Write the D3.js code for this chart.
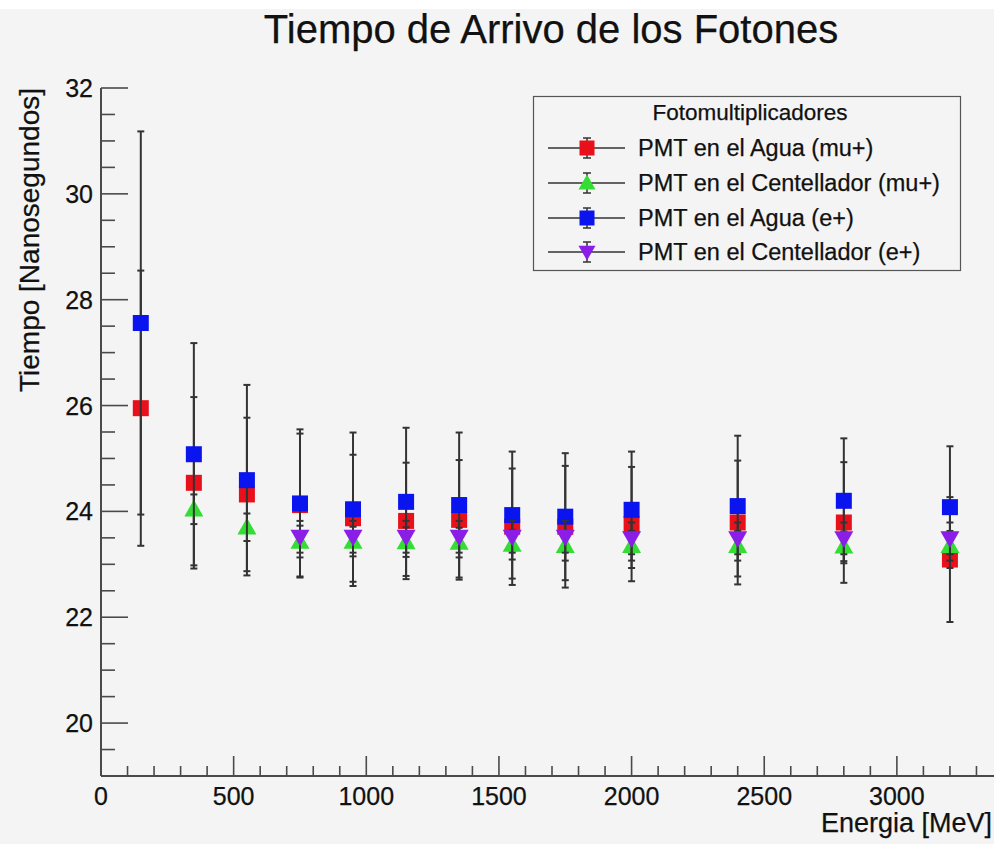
<!DOCTYPE html>
<html>
<head>
<meta charset="utf-8">
<script src="https://cdn.jsdelivr.net/npm/d3@7"></script>
<style>
  html, body { margin: 0; padding: 0; background: #f4f4f4; }
  svg { display: block; }
  text { font-family: "Liberation Sans", Arial, Helvetica, sans-serif; fill: #111; stroke: #111; stroke-width: 0.25px; }
</style>
</head>
<body>
<svg id="chart" width="994" height="844"></svg>
<script>
// ---- data ----
const energies = [150, 350, 550, 750, 950, 1150, 1350, 1550, 1750, 2000, 2400, 2800, 3200];

const aguaMuValues = [25.95, 24.54, 24.32, 24.12, 23.87, 23.82, 23.84, 23.71, 23.71, 23.76, 23.79, 23.79, 23.09];
const aguaMuErrors = [2.60, 1.62, 1.45, 1.35, 1.20, 1.10, 1.13, 1.10, 1.15, 1.08, 1.17, 1.14, 1.18];

const centMuEnergies = [350, 550, 750, 950, 1150, 1350, 1550, 1750, 2000, 2400, 2800, 3200];
const centMuValues = [24.04, 23.70, 23.43, 23.43, 23.42, 23.41, 23.37, 23.35, 23.35, 23.35, 23.34, 23.35];
const centMuErrors = [0.28, 0.26, 0.30, 0.28, 0.28, 0.28, 0.28, 0.28, 0.28, 0.28, 0.28, 0.28];

const aguaEValues = [27.56, 25.08, 24.59, 24.15, 24.04, 24.18, 24.12, 23.93, 23.90, 24.03, 24.10, 24.20, 24.08];
const aguaEErrors = [3.62, 2.10, 1.80, 1.40, 1.45, 1.40, 1.37, 1.20, 1.20, 1.10, 1.33, 1.18, 1.15];

const centEEnergies = [750, 950, 1150, 1350, 1550, 1750, 2000, 2400, 2800, 3200];
const centEValues = [23.52, 23.52, 23.52, 23.52, 23.52, 23.52, 23.49, 23.49, 23.49, 23.49];
const centEErrors = [0.30, 0.30, 0.30, 0.30, 0.30, 0.30, 0.30, 0.30, 0.30, 0.30];

const seriesNames = ["PMT en el Agua (mu+)", "PMT en el Centellador (mu+)", "PMT en el Agua (e+)", "PMT en el Centellador (e+)"];
const seriesColors = ["#e8101a", "#33dd33", "#0a14ee", "#8a1ee6"];
const seriesShapes = ["square", "triangleUp", "square", "triangleDown"];

const xTicks = [0, 500, 1000, 1500, 2000, 2500, 3000];
const yTicks = [20, 22, 24, 26, 28, 30, 32];

const chartTitle = "Tiempo de Arrivo de los Fotones";
const xTitle = "Energia [MeV]";
const yTitle = "Tiempo [Nanosegundos]";
const legendTitle = "Fotomultiplicadores";

// ---- build series table ----
const series = [
  { x: energies, y: aguaMuValues, e: aguaMuErrors },
  { x: centMuEnergies, y: centMuValues, e: centMuErrors },
  { x: energies, y: aguaEValues, e: aguaEErrors },
  { x: centEEnergies, y: centEValues, e: centEErrors }
].map((s, i) => ({
  name: seriesNames[i], color: seriesColors[i], shape: seriesShapes[i],
  points: s.x.map((xv, j) => ({ x: xv, y: s.y[j], e: s.e[j] }))
}));

// ---- layout ----
const svg = d3.select("#chart");
const W = 994, H = 844;
svg.append("rect").attr("width", W).attr("height", H).attr("fill", "#f4f4f4");
svg.append("rect").attr("width", W).attr("height", 9).attr("fill", "#ffffff");

const x = d3.scaleLinear().domain([0, 3400]).range([101, 1003]);
const y = d3.scaleLinear().domain([19, 32]).range([776, 88]);

const axisColor = "#4a4a4a";

// title
svg.append("text").attr("x", 551).attr("y", 43).attr("text-anchor", "middle")
  .style("font-size", "40px").text(chartTitle);

// y axis
const gy = svg.append("g");
gy.append("line").attr("x1", x(0)).attr("x2", x(0)).attr("y1", y(19)).attr("y2", y(32))
  .attr("stroke", axisColor).attr("stroke-width", 2);
const yMinor = d3.range(19, 32.001, 0.5);
gy.selectAll("line.minor").data(yMinor).join("line").attr("class", "minor")
  .attr("x1", x(0)).attr("x2", d => x(0) + (Math.abs(d % 2) < 1e-6 ? 27 : 14))
  .attr("y1", d => y(d)).attr("y2", d => y(d))
  .attr("stroke", axisColor).attr("stroke-width", 1.6);
gy.selectAll("text").data(yTicks).join("text")
  .attr("x", 93).attr("y", d => y(d)).attr("dy", "0.36em").attr("text-anchor", "end")
  .style("font-size", "25px").text(d => d);

// x axis
const gx = svg.append("g");
gx.append("line").attr("x1", x(0)).attr("x2", x(3400)).attr("y1", y(19)).attr("y2", y(19))
  .attr("stroke", axisColor).attr("stroke-width", 2);
const xMinor = d3.range(0, 3401, 100);
gx.selectAll("line.minor").data(xMinor).join("line").attr("class", "minor")
  .attr("x1", d => x(d)).attr("x2", d => x(d))
  .attr("y1", y(19)).attr("y2", d => y(19) - (d % 500 === 0 ? 20 : 10))
  .attr("stroke", axisColor).attr("stroke-width", 1.6);
gx.selectAll("text").data(xTicks).join("text")
  .attr("x", d => x(d)).attr("y", 805).attr("text-anchor", "middle")
  .style("font-size", "25px").text(d => d);

// axis titles
svg.append("text").attr("x", 992).attr("y", 832).attr("text-anchor", "end")
  .style("font-size", "27px").text(xTitle);
svg.append("text").attr("transform", `translate(39, ${y(32)}) rotate(-90)`)
  .attr("text-anchor", "end").style("font-size", "28px").text(yTitle);

// marker path generator
function markerPath(shape, s) {
  const h = s / 2;
  if (shape === "square") return `M${-h},${-h}H${h}V${h}H${-h}Z`;
  if (shape === "triangleUp") return `M0,${-h}L${h},${h * 0.75}L${-h},${h * 0.75}Z`;
  if (shape === "triangleDown") return `M0,${h}L${h},${-h * 0.75}L${-h},${-h * 0.75}Z`;
  return "";
}
const markerSizes = { square: 16, triangleUp: 19, triangleDown: 19 };

const errColor = "#333333";
const capW = 3.5;

// data series
series.forEach(s => {
  const g = svg.append("g");
  const pts = g.selectAll("g.pt").data(s.points).join("g").attr("class", "pt");
  pts.append("line")
    .attr("x1", d => x(d.x)).attr("x2", d => x(d.x))
    .attr("y1", d => y(d.y + d.e)).attr("y2", d => y(d.y - d.e))
    .attr("stroke", errColor).attr("stroke-width", 2);
  pts.append("line")
    .attr("x1", d => x(d.x) - capW).attr("x2", d => x(d.x) + capW)
    .attr("y1", d => y(d.y + d.e)).attr("y2", d => y(d.y + d.e))
    .attr("stroke", errColor).attr("stroke-width", 2);
  pts.append("line")
    .attr("x1", d => x(d.x) - capW).attr("x2", d => x(d.x) + capW)
    .attr("y1", d => y(d.y - d.e)).attr("y2", d => y(d.y - d.e))
    .attr("stroke", errColor).attr("stroke-width", 2);
  pts.append("path")
    .attr("transform", d => `translate(${x(d.x)},${y(d.y)})`)
    .attr("d", markerPath(s.shape, markerSizes[s.shape]))
    .attr("fill", s.color);
});

// legend
const lg = svg.append("g");
lg.append("rect").attr("x", 533.5).attr("y", 96.5).attr("width", 427).attr("height", 174)
  .attr("fill", "#f4f4f4").attr("stroke", "#555").attr("stroke-width", 1.2);
lg.append("text").attr("x", 750).attr("y", 120).attr("text-anchor", "middle")
  .style("font-size", "22.5px").text(legendTitle);
const rowY = [148, 183, 218, 252];
series.forEach((s, i) => {
  const cy = rowY[i];
  lg.append("line").attr("x1", 548).attr("x2", 625).attr("y1", cy).attr("y2", cy)
    .attr("stroke", errColor).attr("stroke-width", 1.5);
  lg.append("line").attr("x1", 587).attr("x2", 587).attr("y1", cy - 10).attr("y2", cy + 10)
    .attr("stroke", errColor).attr("stroke-width", 1.5);
  [-10, 10].forEach(o => lg.append("line").attr("x1", 583).attr("x2", 591)
    .attr("y1", cy + o).attr("y2", cy + o).attr("stroke", errColor).attr("stroke-width", 1.5));
  lg.append("path").attr("transform", `translate(587,${cy})`)
    .attr("d", markerPath(s.shape, s.shape === "square" ? 15 : 17)).attr("fill", s.color);
  lg.append("text").attr("x", 638).attr("y", cy + 8).style("font-size", "23.5px").text(s.name);
});
</script>
</body>
</html>
